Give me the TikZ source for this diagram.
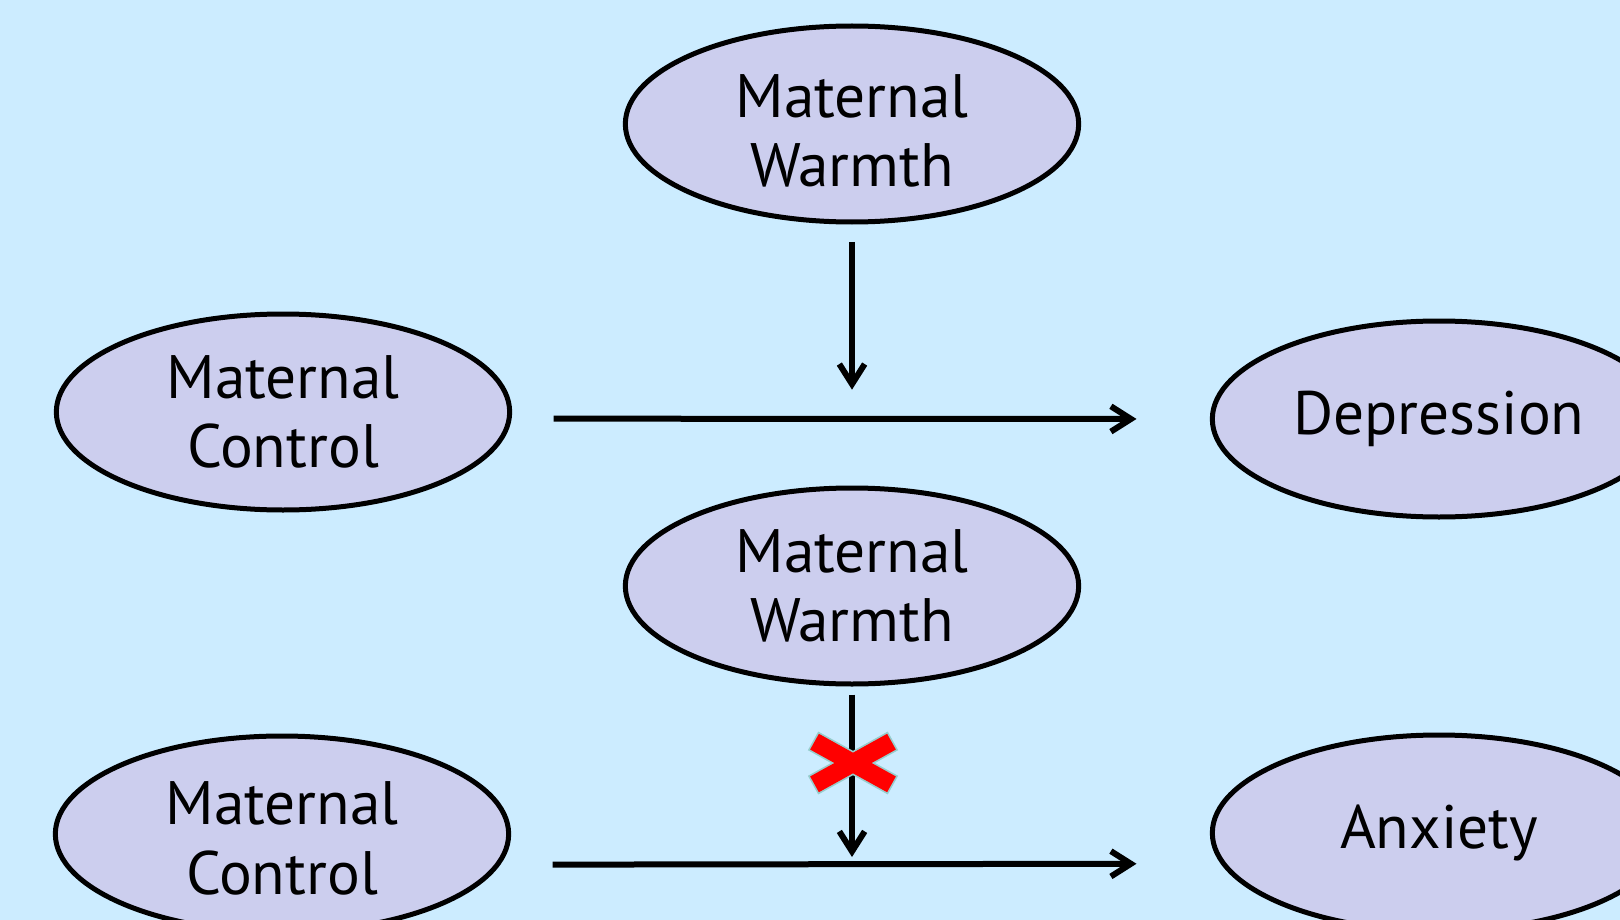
\documentclass[tikz,border=0pt]{standalone}
\usepackage{fontspec}
\setmainfont{PT Sans}
\usetikzlibrary{shapes.geometric,arrows.meta}

\definecolor{skyback}{RGB}{204,236,255}
\definecolor{lavfill}{RGB}{204,206,238}
\definecolor{crossred}{RGB}{255,0,0}
\definecolor{crossedge}{RGB}{150,205,205}

% taller first line, so a two-line label sits a little lower
\newcommand{\firststrut}[1]{\rule{0pt}{#1}}

\tikzset{
  varnode/.style={ellipse, draw=black, line width=3.75pt, fill=lavfill,
    minimum width=340pt, minimum height=147pt, align=center,
    font=\fontsize{46}{52}\selectfont},
  path arrow/.style={draw=black, line width=4.5pt,
    -{Straight Barb[length=15pt,width=19pt,line width=4.5pt]}},
}

\begin{document}
\begin{tikzpicture}[x=0.75pt,y=0.75pt,yscale=-1,xscale=1]
    \useasboundingbox (0,0) rectangle (1620,920);
    \clip (0,0) rectangle (1620,920);
    \fill [skyback] (0,0) rectangle (1620,920);

    % Upper model
    \node [varnode] (warm1) at (852,124) {\firststrut{43pt}Maternal\\Warmth};
    \node [varnode] (ctrl1) at (283,412) {Maternal\\Control};
    \node [varnode] (dep) at (1439,419) {Depression};

    % Lower model
    \node [varnode] (warm2) at (852,586) {Maternal\\Warmth};
    \node [varnode] (ctrl2) at (282,834) {\firststrut{39pt}Maternal\\Control};
    \node [varnode] (anx) at (1439,833) {Anxiety};

    % Paths
    \draw [path arrow, shorten <=31pt, shorten >=55pt] ([yshift=5pt]ctrl1.east) -- (dep.west);
    \draw [path arrow, shorten <=13pt, shorten >=22pt] (warm1.south) -- (warm1.south |- dep.west);
    \draw [path arrow, shorten <=31pt, shorten >=55pt] ([yshift=23pt]ctrl2.east) -- ([yshift=23pt]anx.west);
    \draw [path arrow, shorten <=6pt, shorten >=5pt] (warm2.south) -- ([yshift=23pt]warm2.south |- anx.west);

    % Cross over the moderation path
    \begin{scope}[shift={(853,763)}]
      \draw [crossedge, line width=2.5pt, line join=miter] [rotate=29] (-44,-9) rectangle (44,9);
      \draw [crossedge, line width=2.5pt, line join=miter] [rotate=-29] (-44,-9) rectangle (44,9);
      \fill [crossred] [rotate=29] (-44,-9) rectangle (44,9);
      \fill [crossred] [rotate=-29] (-44,-9) rectangle (44,9);
    \end{scope}
\end{tikzpicture}
\end{document}
